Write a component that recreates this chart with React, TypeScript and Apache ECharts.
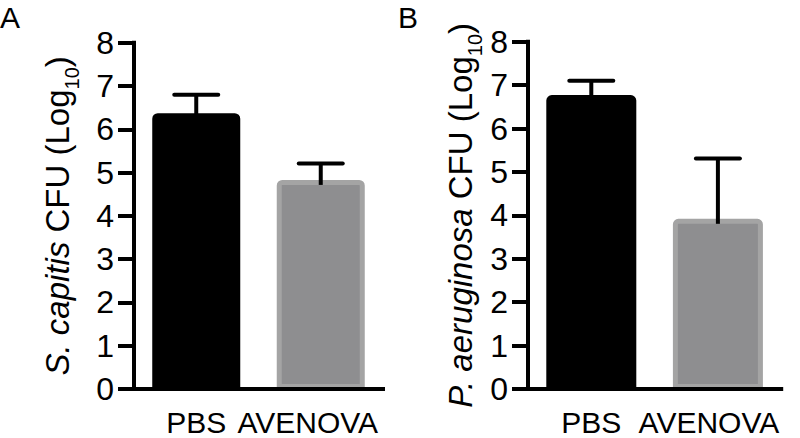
import React, { useEffect, useRef } from "react";
import * as echarts from "echarts";

const categories = ["PBS", "AVENOVA"];
const yTicks = [0, 1, 2, 3, 4, 5, 6, 7, 8];
const meansA = [6.37, 4.83];
const sdA = [0.43, 0.38];
const meansB = [6.77, 3.92];
const sdB = [0.33, 1.39];

const FONT = "'Liberation Sans', Arial, Helvetica, sans-serif";

export default function App() {
  const ref = useRef<HTMLDivElement>(null);
  useEffect(() => {
    if (!ref.current) return;
    const chart = echarts.init(ref.current, null, { renderer: "svg" });

    const xAxisBase = (gridIndex: number, padRight: number) => ({
      type: "category",
      gridIndex,
      data: categories.map((c, i) =>
        i === 1 ? { value: c, textStyle: { padding: [0, padRight, 0, 0] } } : c
      ),
      z: 4,
      axisLine: { lineStyle: { color: "#000", width: 4, cap: "square" } },
      axisTick: { alignWithLabel: true, length: 16, lineStyle: { color: "#000", width: 4 } },
      axisLabel: {
        color: "#000",
        fontSize: 30,
        lineHeight: 26,
        fontFamily: FONT,
        margin: 20,
        interval: 0,
      },
      splitLine: { show: false },
    });

    const yAxisBase = (gridIndex: number, title: string, gap: number) => ({
      type: "value",
      gridIndex,
      min: yTicks[0],
      max: yTicks[yTicks.length - 1],
      interval: 1,
      z: 4,
      axisLine: { show: true, lineStyle: { color: "#000", width: 4, cap: "square" } },
      axisTick: { show: true, length: 16, lineStyle: { color: "#000", width: 4 } },
      axisLabel: { color: "#000", fontSize: 32, fontFamily: FONT, margin: 20 },
      splitLine: { show: false },
      name: title,
      nameLocation: "middle",
      nameRotate: 90,
      nameGap: gap,
      nameTextStyle: {
        color: "#000",
        fontFamily: FONT,
        rich: {
          i: { fontStyle: "italic", fontSize: 33, lineHeight: 33, fontFamily: FONT, color: "#000" },
          n: { fontSize: 33, lineHeight: 33, fontFamily: FONT, color: "#000" },
          s: { fontSize: 20, lineHeight: 20, padding: [28, 0, 0, 0], fontFamily: FONT, color: "#000" },
        },
      },
    });

    const barSeries = (idx: number, means: number[], bw: number) => ({
      type: "bar",
      xAxisIndex: idx,
      yAxisIndex: idx,
      barWidth: bw,
      z: 2,
      data: means.map((v, i) => ({
        value: v,
        itemStyle:
          i === 0
            ? { color: "#000000", borderColor: "#000000", borderWidth: 5, borderRadius: [3, 3, 0, 0] }
            : { color: "#8e8e90", borderColor: "#a4a4a4", borderWidth: 5, borderRadius: [3, 3, 0, 0] },
      })),
    });

    const errSeries = (idx: number, means: number[], sds: number[]) => ({
      type: "custom",
      xAxisIndex: idx,
      yAxisIndex: idx,
      z: 5,
      encode: { x: 0, y: 1 },
      data: means.map((m, i) => [i, m, sds[i]]),
      renderItem: (params: any, api: any) => {
        const x = api.value(0);
        const m = api.value(1);
        const s = api.value(2);
        const top = api.coord([x, m + s]);
        const mid = api.coord([x, m]);
        const half = 22;
        return {
          type: "group",
          children: [
            {
              type: "line",
              shape: { x1: top[0], y1: top[1], x2: mid[0], y2: mid[1] + 5 },
              style: { stroke: "#000", lineWidth: 4, lineCap: "butt" },
            },
            {
              type: "line",
              shape: { x1: top[0] - half, y1: top[1], x2: top[0] + half, y2: top[1] },
              style: { stroke: "#000", lineWidth: 4, lineCap: "round" },
            },
          ],
        };
      },
    });

    chart.setOption({
      animation: false,
      backgroundColor: "#ffffff",
      grid: [
        { left: 134, top: 42.7, width: 249, height: 346.3 },
        { left: 528, top: 41.7, width: 254, height: 347.3 },
      ],
      xAxis: [xAxisBase(0, 26), xAxisBase(1, 18)],
      yAxis: [
        yAxisBase(0, "{i|S. capitis}{n| CFU (Log}{s|10}{n|)}", 60),
        yAxisBase(1, "{i|P. aeruginosa}{n| CFU (Log}{s|10}{n|)}", 51),
      ],
      graphic: [
        {
          type: "text",
          left: 0,
          top: 2,
          style: { text: "A", fontSize: 30, fontFamily: FONT, fill: "#000" },
        },
        {
          type: "text",
          left: 398,
          top: 2,
          style: { text: "B", fontSize: 30, fontFamily: FONT, fill: "#000" },
        },
      ],
      series: [
        barSeries(0, meansA, 88),
        barSeries(1, meansB, 90),
        errSeries(0, meansA, sdA),
        errSeries(1, meansB, sdB),
      ],
    });
    return () => chart.dispose();
  }, []);
  return (
    <div
      ref={ref}
      style={{ position: "fixed", left: 0, top: 0, width: 800, height: 438, background: "#fff" }}
    />
  );
}
